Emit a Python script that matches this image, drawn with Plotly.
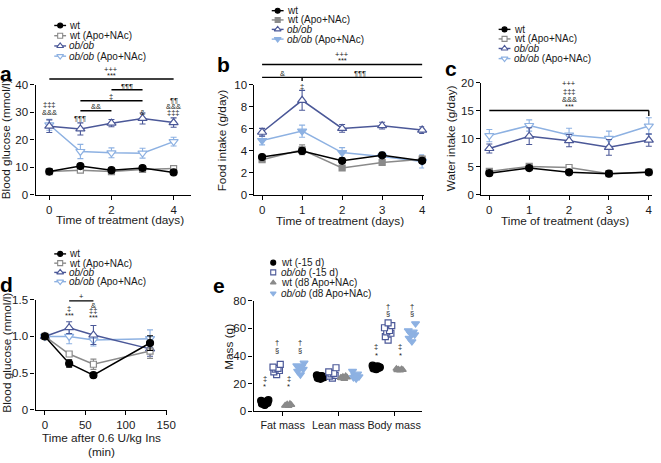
import plotly.graph_objects as go

W, H = 661, 463
FONT = "Liberation Sans, Arial, sans-serif"
TXT = "#1a1a1a"
BLACK = "#000000"
GRAY = "#8a8a8a"
DARK = "#4b5898"
LIGHT = "#8db1e2"

# ---------------- data ----------------
days = [0, 1, 2, 3, 4]
legend_names = ["wt", "wt (Apo+NAc)", "<i>ob/ob</i>", "<i>ob/ob</i> (Apo+NAc)"]

glucose_wt = [8.5, 10.5, 9.0, 9.8, 8.2]
glucose_wt_err = [0.5, 0.6, 0.5, 0.5, 0.5]
glucose_wt_apo = [8.5, 9.0, 8.5, 9.3, 9.6]
glucose_wt_apo_err = [0.4, 0.5, 0.5, 0.5, 0.4]
glucose_ob = [25.0, 24.0, 26.1, 27.8, 26.3]
glucose_ob_err = [2.3, 2.2, 1.3, 2.0, 1.7]
glucose_ob_apo = [25.5, 15.8, 15.3, 15.2, 19.4]
glucose_ob_apo_err = [2.0, 2.6, 1.8, 1.8, 1.6]

food_wt = [3.45, 4.0, 3.1, 3.6, 3.1]
food_wt_err = [0.15, 0.25, 0.15, 0.15, 0.2]
food_wt_apo = [3.2, 4.1, 2.45, 2.95, 3.25]
food_wt_apo_err = [0.15, 0.45, 0.15, 0.15, 0.3]
food_ob = [5.7, 8.6, 6.05, 6.3, 5.9]
food_ob_err = [0.35, 0.9, 0.35, 0.3, 0.3]
food_ob_apo = [4.95, 5.8, 3.85, 3.5, 3.05]
food_ob_apo_err = [0.4, 0.55, 0.45, 0.4, 0.6]

water_wt = [3.9, 4.8, 4.05, 3.8, 4.05]
water_wt_err = [0.3, 0.3, 0.2, 0.2, 0.2]
water_wt_apo = [4.2, 5.1, 4.9, 3.8, 4.1]
water_wt_apo_err = [0.3, 0.3, 0.2, 0.2, 0.2]
water_ob = [8.3, 10.5, 9.7, 8.5, 9.8]
water_ob_err = [0.8, 1.5, 1.1, 1.4, 1.1]
water_ob_apo = [10.6, 12.4, 10.7, 10.1, 12.3]
water_ob_apo_err = [1.1, 1.0, 1.2, 1.3, 1.5]

itt_time = [0, 30, 60, 130]
itt_wt = [1.0, 0.63, 0.47, 0.91]
itt_wt_err = [0.0, 0.05, 0.03, 0.1]
itt_wt_apo = [1.0, 0.76, 0.62, 0.80]
itt_wt_apo_err = [0.0, 0.03, 0.07, 0.1]
itt_ob = [1.0, 1.12, 1.02, 0.83]
itt_ob_err = [0.0, 0.08, 0.13, 0.1]
itt_ob_apo = [1.0, 1.0, 0.95, 0.97]
itt_ob_apo_err = [0.0, 0.1, 0.08, 0.12]

mass_categories = ["Fat mass", "Lean mass", "Body mass"]
mass_groups = ["wt (-15 d)", "<i>ob/ob</i> (-15 d)", "wt (d8 Apo+NAc)", "<i>ob/ob</i> (d8 Apo+NAc)"]
fat_wt = [4.5, 5.5, 6.0, 6.5, 7.0, 7.5, 8.0, 5.0]
fat_ob = [26.5, 28.5, 29.5, 30.5, 31.0, 32.0, 34.0]
fat_wt_d8 = [3.8, 4.2, 4.6, 5.0, 5.4, 4.0]
fat_ob_d8 = [26.5, 29.0, 30.5, 31.5, 32.5, 33.0, 35.0]
lean_wt = [23.5, 24.0, 24.5, 25.0, 25.5, 26.0, 24.8, 25.2]
lean_ob = [24.0, 25.5, 26.0, 27.0, 27.5, 28.5, 31.5]
lean_wt_d8 = [23.5, 24.0, 24.5, 25.0, 25.5, 24.2]
lean_ob_d8 = [23.5, 24.5, 25.0, 26.0, 27.0, 29.0]
body_wt = [30.5, 31.0, 31.5, 32.0, 32.5, 33.0, 31.8, 32.2]
body_ob = [51.5, 54.0, 56.5, 57.5, 58.5, 60.5, 62.0, 64.0]
body_wt_d8 = [29.5, 29.8, 30.0, 30.2, 30.5, 30.8]
body_ob_d8 = [50.5, 53.0, 55.5, 56.5, 57.5, 58.5, 63.5]

# ---------------- figure ----------------
fig = go.Figure()

def P(ypx):
    return 1 - ypx / H

def dom_x(a, b):
    return [a / W, b / W]

def dom_y(top, bot):
    return [1 - bot / H, 1 - top / H]

axis_common = dict(showline=True, linecolor=BLACK, linewidth=1.3, ticks="outside",
                   ticklen=4, tickwidth=1.2, tickcolor=BLACK, showgrid=False,
                   zeroline=False, tickfont=dict(family=FONT, size=11.5, color=TXT),
                   fixedrange=True, tickangle=0)

layout_axes = {}
def set_axes(n, xd, yd, xr, yr, xt, yt, xtt=None, ytt=None, xfs=None):
    s = "" if n == 1 else str(n)
    xa = dict(axis_common, domain=dom_x(*xd), range=xr, tickvals=xt, anchor="y" + s)
    ya = dict(axis_common, domain=dom_y(*yd), range=yr, tickvals=yt, anchor="x" + s)
    if xtt is not None:
        xa["ticktext"] = xtt
    if ytt is not None:
        ya["ticktext"] = ytt
    if xfs is not None:
        xa["tickfont"] = dict(family=FONT, size=xfs, color=TXT)
    layout_axes["xaxis" + s] = xa
    layout_axes["yaxis" + s] = ya

set_axes(1, (36, 194), (81, 194), [-0.444, 4.571], [0, 40], [0, 2, 4], [0, 10, 20, 30, 40])
set_axes(2, (258, 430), (81, 194), [-0.19, 4.05], [0, 10], days, [0, 2, 4, 6, 8, 10])
set_axes(3, (488, 661), (79, 194), [-0.2, 4.08], [0, 20], days, [0, 5, 10, 15, 20])
set_axes(4, (36, 169), (301.7, 414.3), [-11.6, 150.6], [0, 1.5], [0, 50, 100, 150],
         [0, 0.5, 1.0, 1.5], ytt=["0", "0.5", "1.0", "1.5"])
set_axes(5, (257, 428), (302.7, 416), [0.478, 3.504], [0, 80], [1, 2, 3],
         [0, 20, 40, 60, 80], xtt=mass_categories, xfs=10.8)
# overlay pixel axis for hand-drawn legend keys
layout_axes["xaxis6"] = dict(domain=[0, 1], range=[0, W], visible=False, fixedrange=True, anchor="y6")
layout_axes["yaxis6"] = dict(domain=[0, 1], range=[H, 0], visible=False, fixedrange=True, anchor="x6")

def series(n, x, y, err, color, symbol, filled, size):
    s = "" if n == 1 else str(n)
    mk = dict(symbol=symbol, size=size, color=color if filled else "white",
              line=dict(color=color, width=1.2))
    fig.add_trace(go.Scatter(
        x=x, y=y, mode="lines+markers", xaxis="x" + s, yaxis="y" + s,
        line=dict(color=color, width=1.5), marker=mk, cliponaxis=False,
        error_y=dict(type="data", array=err, color=color, thickness=1.1, width=3),
        showlegend=False, hoverinfo="x+y"))

STY = [
    (BLACK, "circle", True, 7),
    (GRAY, "square", False, 6),
    (DARK, "triangle-up", False, 8),
    (LIGHT, "triangle-down", False, 8),
]
STY_B = [
    (BLACK, "circle", True, 7),
    (GRAY, "square", True, 6),
    (DARK, "triangle-up", False, 8),
    (LIGHT, "triangle-down", True, 8),
]

for (ys, es), st in zip([(glucose_ob_apo, glucose_ob_apo_err), (glucose_ob, glucose_ob_err),
                         (glucose_wt_apo, glucose_wt_apo_err), (glucose_wt, glucose_wt_err)],
                        STY[::-1]):
    series(1, days, ys, es, *st)
for (ys, es), st in zip([(food_ob_apo, food_ob_apo_err), (food_ob, food_ob_err),
                         (food_wt_apo, food_wt_apo_err), (food_wt, food_wt_err)],
                        STY_B[::-1]):
    series(2, days, ys, es, *st)
for (ys, es), st in zip([(water_ob_apo, water_ob_apo_err), (water_ob, water_ob_err),
                         (water_wt_apo, water_wt_apo_err), (water_wt, water_wt_err)],
                        STY[::-1]):
    series(3, days, ys, es, *st)
for (ys, es), st in zip([(itt_ob_apo, itt_ob_apo_err), (itt_ob, itt_ob_err),
                         (itt_wt_apo, itt_wt_apo_err), (itt_wt, itt_wt_err)],
                        STY[::-1]):
    series(4, itt_time, ys, es, *st)

# panel e scatter
E_STY = [
    (BLACK, "circle", True, 7),
    (DARK, "square", False, 6),
    (GRAY, "triangle-up", True, 6),
    (LIGHT, "triangle-down", True, 7),
]
group_offset = [-0.32, -0.107, 0.107, 0.32]
jitter = [0.0, -0.05, 0.05, -0.025, 0.025, -0.065, 0.065, 0.0]
mass_data = [
    [fat_wt, fat_ob, fat_wt_d8, fat_ob_d8],
    [lean_wt, lean_ob, lean_wt_d8, lean_ob_d8],
    [body_wt, body_ob, body_wt_d8, body_ob_d8],
]
for ci, cat in enumerate(mass_data):
    for gi, vals in enumerate(cat):
        color, sym, filled, size = E_STY[gi]
        cx = ci + 1 + group_offset[gi]
        xs = [cx + jitter[k % len(jitter)] for k in range(len(vals))]
        mean = sum(vals) / len(vals)
        fig.add_trace(go.Scatter(x=[cx - 0.08, cx + 0.08], y=[mean, mean], mode="lines",
                                 xaxis="x5", yaxis="y5", line=dict(color=color, width=1.5),
                                 showlegend=False, hoverinfo="skip"))
        fig.add_trace(go.Scatter(
            x=xs, y=vals, mode="markers", xaxis="x5", yaxis="y5", cliponaxis=False,
            marker=dict(symbol=sym, size=size, color=color if filled else "white",
                        line=dict(color=color, width=1.2)),
            showlegend=False, hoverinfo="y"))

# ---------------- annotations & shapes ----------------
ann = []
shapes = []
SS = 7.5  # size of the significance symbols

def A(text, x, ypx, xref="paper", size=SS, xanchor="center", yanchor="middle", **kw):
    xv = x / W if xref == "paper" else x
    d = dict(text=text, x=xv, y=P(ypx), xref=xref, yref="paper", showarrow=False,
             xanchor=xanchor, yanchor=yanchor, borderpad=0,
             font=dict(family=FONT, size=size, color=kw.pop("color", TXT)))
    d.update(kw)
    ann.append(d)

def bar(xref, x0, x1, ypx, w=1.4):
    shapes.append(dict(type="line", xref=xref, yref="paper", x0=x0, x1=x1,
                       y0=P(ypx), y1=P(ypx), line=dict(color=BLACK, width=w)))

def vtick(xref, x, y0px, y1px):
    shapes.append(dict(type="line", xref=xref, yref="paper", x0=x, x1=x,
                       y0=P(y0px), y1=P(y1px), line=dict(color=BLACK, width=1.4)))

# panel letters
for letter, x, y in [("a", 6.5, 69), ("b", 227, 60), ("c", 457, 64), ("d", 6.5, 286), ("e", 222, 287)]:
    A("<b>%s</b>" % letter, x, y, size=21, color=BLACK)

# axis titles
TS = 11.8
A("Time of treatment (days)", 122, 220, size=TS)
A("Time of treatment (days)", 345, 221, size=TS)
A("Time of treatment (days)", 573, 221, size=TS)
A("Time after 0.6 U/kg Ins", 103, 443.5, size=TS)
A("(min)", 103, 457.5, size=TS)
A("Blood glucose (mmol/l)", 7, 137, size=TS, textangle=-90)
A("Food intake (g/day)", 225, 138, size=TS, textangle=-90)
A("Water intake (g/day)", 458, 136, size=TS, textangle=-90)
A("Blood glucose (mmol/l)", 7, 356, size=TS, textangle=-90)
A("Mass (g)", 232, 350, size=TS, textangle=-90)

# panel a significance
bar("x", 0, 4, 75)
A("+++", 2, 65, "x")
A("***", 2, 71.5, "x")
bar("x", 2, 3, 86)
A("¶¶¶", 2.5, 82.5, "x")
bar("x", 1, 3, 97.3)
A("‡", 2, 93.3, "x")
bar("x", 1, 2, 107.5)
A("&&", 1.5, 103.5, "x")
A("‡‡‡", 0, 101.5, "x")
A("&&&", 0, 109, "x")
A("¶¶¶", 1, 116, "x")
A("&", 3, 109.5, "x")
A("¶¶", 4, 97, "x")
A("&&&", 4, 103, "x")
A("‡‡‡", 4, 109, "x")

# panel b
bar("x2", 0, 4, 60)
A("+++", 2, 49.5, "x2")
A("***", 2, 56, "x2")
bar("x2", 0, 4, 73.3)
vtick("x2", 1, 73.3, 77)
A("&", 0.5, 69.5, "x2")
A("¶¶¶", 2.45, 69.5, "x2")
A("‡", 1, 83, "x2")

# panel c
bar("x3", 0, 4, 107.3)
vtick("x3", 4, 107.3, 113)
A("+++", 2, 80, "x3")
A("‡‡‡", 2, 88, "x3")
A("&&&", 2, 96, "x3")
A("***", 2, 103.5, "x3")

# panel d
bar("x4", 30, 60, 302.7)
A("+", 45, 298.5, "x4")
A("‡", 30, 310.5, "x4")
A("***", 30, 318, "x4")
A("&", 60, 307.3, "x4")
A("‡‡", 60, 313, "x4")
A("***", 60, 319.5, "x4")

# panel e
e_marks = [(1, 382.7, 390, 345.7, 353.3), (3, 350, 357.5, 308.3, 316)]
for c, w1, w2, o1, o2 in e_marks:
    for gi in (0, 2):
        A("‡", c + group_offset[gi], w1, "x5")
        A("*", c + group_offset[gi], w2 + 1, "x5")
    for gi in (1, 3):
        A("†", c + group_offset[gi], o1, "x5")
        A("§", c + group_offset[gi], o2, "x5")

# ---------------- hand-drawn legends ----------------
LFS = 10
def legend_block(xc, xtext, rows, styles, names, line=True, msize=None):
    for (color, sym, filled, size), name, y in zip(styles, names, rows):
        if line:
            fig.add_trace(go.Scatter(x=[xc - 6, xc + 6], y=[y, y], mode="lines",
                                     xaxis="x6", yaxis="y6", line=dict(color=color, width=1.4),
                                     showlegend=False, hoverinfo="skip"))
        s = msize if msize else max(size - 2, 5)
        fig.add_trace(go.Scatter(x=[xc], y=[y], mode="markers", xaxis="x6", yaxis="y6",
                                 marker=dict(symbol=sym, size=s, color=color if filled else "white",
                                             line=dict(color=color, width=1.1)),
                                 showlegend=False, hoverinfo="skip"))
        A(name, xtext, y, size=LFS, xanchor="left")

legend_block(61, 69, [20, 30.5, 41, 51.5], STY, legend_names)
legend_block(281.5, 290, [4.8, 14.3, 24, 34], STY_B, legend_names)
legend_block(511.5, 520.5, [24, 33.8, 43.6, 54], STY, legend_names)
legend_block(61, 69, [254.5, 264, 273.5, 283], STY, legend_names)
legend_block(277, 283.5, [263.5, 273.5, 284, 295], E_STY, mass_groups, line=False, msize=5)

fig.update_layout(
    width=W, height=H, autosize=False,
    margin=dict(l=0, r=0, t=0, b=0, pad=0),
    paper_bgcolor="white", plot_bgcolor="rgba(0,0,0,0)",
    font=dict(family=FONT, size=11, color=TXT),
    showlegend=False,
    annotations=ann, shapes=shapes,
    **layout_axes,
)

fig.write_html("out.html", config={"displayModeBar": False},
               post_script="document.body.style.margin='0';document.body.style.overflow='hidden';")
